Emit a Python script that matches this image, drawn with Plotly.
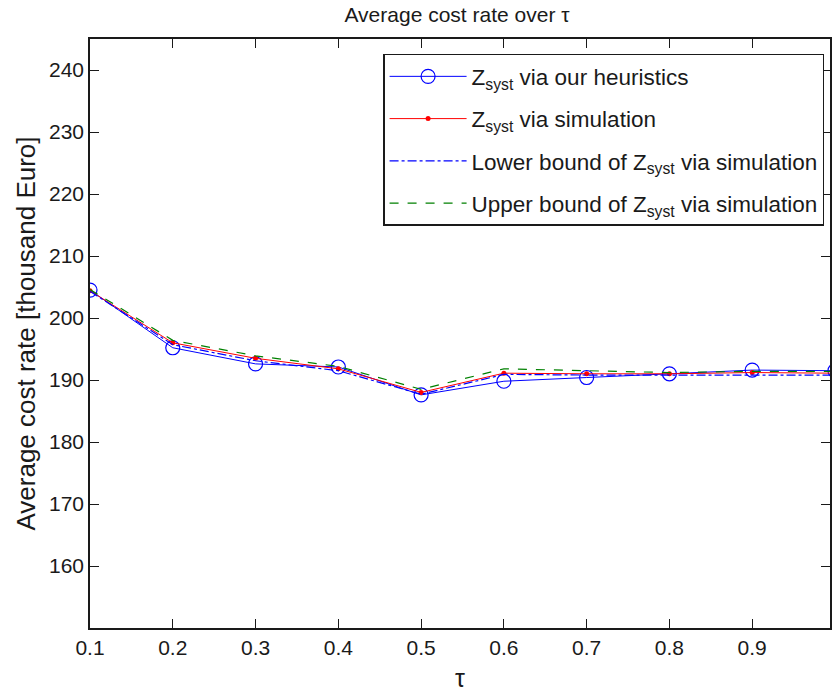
import plotly.graph_objects as go

tau = [0.1, 0.2, 0.3, 0.4, 0.5, 0.6, 0.7, 0.8, 0.9, 1.0]
z_heur = [204.5, 195.2, 192.6, 192.1, 187.6, 189.8, 190.4, 191.0, 191.6, 191.5]
z_sim = [204.4, 196.0, 193.5, 191.8, 188.0, 191.1, 191.0, 191.0, 191.2, 191.1]
z_low = [204.3, 195.7, 193.1, 191.5, 187.7, 190.9, 190.8, 190.8, 190.9, 190.8]
z_up = [204.6, 196.4, 193.9, 192.2, 188.5, 191.8, 191.5, 191.2, 191.4, 191.4]

names = [
    "Z<sub>syst</sub> via our heuristics",
    "Z<sub>syst</sub> via simulation",
    "Lower bound of Z<sub>syst</sub> via simulation",
    "Upper bound of Z<sub>syst</sub> via simulation",
]

FONT = "Liberation Sans, Arial, sans-serif"
INK = "#1a1a1a"

fig = go.Figure()
fig.add_trace(go.Scatter(x=tau, y=z_heur, name=names[0], legendgroup="g1", mode="lines+markers",
                         line=dict(color="#0000FF", width=1),
                         marker=dict(symbol="circle-open", size=14, color="#0000FF",
                                     line=dict(width=1.2, color="#0000FF"))))
fig.add_trace(go.Scatter(x=tau, y=z_sim, name=names[1], legendgroup="g2", mode="lines+markers",
                         line=dict(color="#FF0000", width=1),
                         marker=dict(symbol="circle", size=5, color="#FF0000")))
fig.add_trace(go.Scatter(x=tau, y=z_low, name=names[2], legendgroup="g3", mode="lines",
                         line=dict(color="#0000FF", width=1.2, dash="dashdot")))
fig.add_trace(go.Scatter(x=tau, y=z_up, name=names[3], legendgroup="g4", mode="lines",
                         line=dict(color="#008000", width=1.2, dash="dash")))

axis_common = dict(showgrid=False, zeroline=False, showline=True, linecolor=INK,
                   linewidth=1.5, mirror="ticks", ticks="inside", ticklen=9,
                   tickcolor=INK, tickwidth=1.2,
                   tickfont=dict(family=FONT, size=21, color=INK))

fig.update_layout(
    width=832, height=693,
    margin=dict(l=90, r=0, t=39, b=65),
    paper_bgcolor="white", plot_bgcolor="white",
    font=dict(family=FONT, color=INK),
    title=dict(text="Average cost rate over τ", x=457 / 832, xanchor="center",
               y=1 - 15 / 693, yanchor="middle", font=dict(family=FONT, size=21, color=INK)),
    xaxis=dict(range=[0.1, 0.994], tickvals=[0.1, 0.2, 0.3, 0.4, 0.5, 0.6, 0.7, 0.8, 0.9, 1.0],
               ticktext=["0.1", "0.2", "0.3", "0.4", "0.5", "0.6", "0.7", "0.8", "0.9", "1"],
               title=dict(text="τ", font=dict(family=FONT, size=25, color=INK), standoff=12),
               **axis_common),
    yaxis=dict(range=[150, 245], tickvals=[160, 170, 180, 190, 200, 210, 220, 230, 240],
               title=dict(text="Average cost rate [thousand Euro]",
                          font=dict(family=FONT, size=26, color=INK), standoff=6),
               **axis_common),
    legend=dict(x=0.992, xanchor="right", y=0.975, yanchor="top",
                bgcolor="white", bordercolor=INK, borderwidth=1.5,
                font=dict(family=FONT, size=22.5, color=INK),
                itemwidth=77, tracegroupgap=10, traceorder="grouped"),
    showlegend=True,
)

fig.write_html("out.html")
